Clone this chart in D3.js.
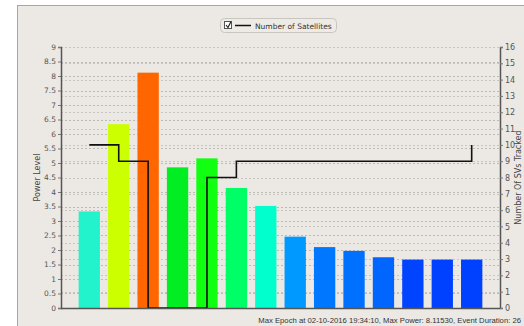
<!DOCTYPE html>
<html><head><meta charset="utf-8">
<script src="https://cdn.jsdelivr.net/npm/d3@7"></script>
<style>body{margin:0;background:#fff}svg{display:block}text{font-family:"DejaVu Sans",sans-serif}</style>
</head><body>
<script>
const categories = ["1","2","3","4","5","6","7","8","9","10","11","12","13","14"];
const powerValues = [3.33, 6.34, 8.1153, 4.85, 5.16, 4.14, 3.52, 2.46, 2.1, 1.97, 1.75, 1.67, 1.67, 1.67];
const barColors = ["#22f3cc","#ccff00","#ff6600","#00ee22","#11ff11","#00ff66","#00ffcc","#0099ff","#0077ff","#0070ff","#0066ff","#0044ff","#0040ff","#0040ff"];
const satellites = [10, 9, 0, 0, 8, 9, 9, 9, 9, 9, 9, 9, 9, 10];
const leftTicks = d3.range(0, 9.01, 0.5);
const rightTicks = d3.range(0, 17, 1);
const leftTitle = "Power Level";
const rightTitle = "Number Of SVs Tracked";
const legendLabel = "Number of Satellites";
const footer = "Max Epoch at 02-10-2016 19:34:10, Max Power: 8.11530, Event Duration: 26";

const W = 524, H = 326;
const L = 61, R = 500, T = 47, B = 308;
const svg = d3.select("body").append("svg").attr("width", W).attr("height", H);

// panel
svg.append("rect").attr("x", 17.5).attr("y", 5.5).attr("width", W).attr("height", H)
  .attr("fill", "#ece9e4").attr("stroke", "#a8a6a2");

const x = d3.scaleBand().domain(categories).range([L, R]).paddingInner(0.275).paddingOuter(0.6);
const yL = d3.scaleLinear().domain([0, 9]).range([B, T]);
const yR = d3.scaleLinear().domain([0, 16]).range([B, T]);

// grids
const g = svg.append("g");
g.selectAll(".gl").data(leftTicks.filter(d => d > 0)).join("line")
  .attr("x1", L).attr("x2", R).attr("y1", d => Math.round(yL(d)) + 0.5).attr("y2", d => Math.round(yL(d)) + 0.5)
  .attr("stroke", "#bdbbb6").attr("stroke-dasharray", "2,2");
g.selectAll(".gr").data(rightTicks.filter(d => d > 0)).join("line")
  .attr("x1", L).attr("x2", R).attr("y1", d => Math.round(yR(d)) + 0.5).attr("y2", d => Math.round(yR(d)) + 0.5)
  .attr("stroke", "#c8c6c1").attr("stroke-dasharray", "2,2");

// bars
svg.selectAll(".bar").data(powerValues).join("rect")
  .attr("x", (d, i) => x(categories[i])).attr("width", x.bandwidth())
  .attr("y", d => yL(d)).attr("height", d => B - yL(d))
  .attr("fill", (d, i) => barColors[i]);

// step line
const line = d3.line().curve(d3.curveStepAfter)
  .x((d, i) => x(categories[i]) + x.bandwidth() / 2)
  .y(d => yR(d));
svg.append("path").datum(satellites).attr("d", line)
  .attr("fill", "none").attr("stroke", "#111").attr("stroke-width", 1.6);

// axes
const axL = d3.axisLeft(yL).tickValues(leftTicks).tickSize(3).tickFormat(d3.format("~g"));
const axR = d3.axisRight(yR).tickValues(rightTicks).tickSize(3).tickFormat(d3.format("d"));
const gl = svg.append("g").attr("transform", `translate(${L},0)`).call(axL);
const gr = svg.append("g").attr("transform", `translate(${R},0)`).call(axR);
[gl, gr].forEach(a => {
  a.select(".domain").attr("stroke", "#555").attr("stroke-width", 1.5);
  a.selectAll(".tick line").attr("stroke", "#777");
  a.selectAll("text").attr("fill", "#555").style("font-size", "7.5px").style("font-family", "DejaVu Sans, sans-serif");
});
gl.selectAll("text").attr("x", -5);
gr.selectAll("text").attr("x", 5).style("font-size", "8px");
// baseline
svg.append("line").attr("x1", L).attr("x2", R).attr("y1", B + 0.5).attr("y2", B + 0.5)
  .attr("stroke", "#555").attr("stroke-width", 1.5);

// axis titles
svg.append("text").attr("transform", `translate(40,${(T + B) / 2}) rotate(-90)`)
  .attr("text-anchor", "middle").attr("font-size", 8).attr("fill", "#444").text(leftTitle);
svg.append("text").attr("transform", `translate(521,${(T + B) / 2}) rotate(-90)`)
  .attr("text-anchor", "middle").attr("font-size", 8).attr("fill", "#444").text(rightTitle);

// legend
const lg = svg.append("g");
lg.append("rect").attr("x", 220.5).attr("y", 18.5).attr("width", 116).attr("height", 14).attr("rx", 4)
  .attr("fill", "#eeebe6").attr("stroke", "#c9c6c0");
lg.append("rect").attr("x", 224.5).attr("y", 21.5).attr("width", 7).attr("height", 7)
  .attr("fill", "#fff").attr("stroke", "#555");
lg.append("path").attr("d", "M226,25 L228,27.5 L231,21.5").attr("fill", "none").attr("stroke", "#222").attr("stroke-width", 1.2);
lg.append("line").attr("x1", 235).attr("x2", 251).attr("y1", 25.5).attr("y2", 25.5).attr("stroke", "#111").attr("stroke-width", 1.5);
lg.append("text").attr("x", 255).attr("y", 28.5).attr("font-size", 7.5).attr("fill", "#333").text(legendLabel);

// footer: right-aligned, font-size fitted so it stays inside the picture
const ft = svg.append("text").attr("x", 521).attr("y", 323).attr("text-anchor", "end")
  .attr("fill", "#333").style("font-family", "Liberation Sans, Arial, sans-serif").attr("font-size", 8).text(footer);
let fs = 8;
while (ft.node().getComputedTextLength() > 264 && fs > 5) { fs -= 0.1; ft.attr("font-size", fs); }
</script>
</body></html>
